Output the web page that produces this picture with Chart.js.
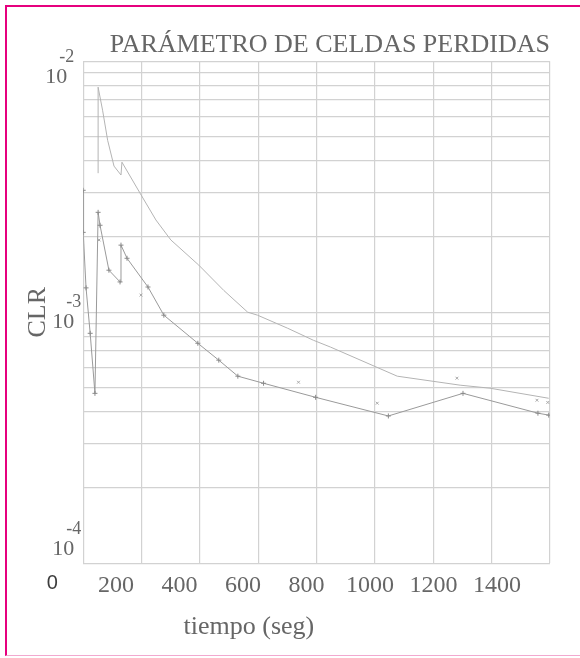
<!DOCTYPE html>
<html>
<head>
<meta charset="utf-8">
<script src="https://cdn.jsdelivr.net/npm/chart.js@4.4.0/dist/chart.umd.min.js"></script>
<style>
  body { margin: 0; background: #fff; }
  #wrap { position: relative; width: 580px; height: 658px; }
  #frame {
    position: absolute; left: 5px; top: 5px; width: 575px; height: 651px;
    border-left: 2px solid #e6007e; border-top: 2px solid #e6007e;
    border-bottom: 1px solid #f2a9cf; box-sizing: border-box;
  }
  canvas { position: absolute; left: 0; top: 0; }
</style>
</head>
<body>
<div id="wrap">
  <canvas id="clrChart" width="580" height="658"></canvas>
  <div id="frame"></div>
</div>
<script>
// tiempo (seg) / CLR
const upperTime = [144, 144, 158, 174, 194, 216, 219, 276, 326, 373, 461, 540, 615, 646, 741, 822, 876, 1086, 1284, 1378, 1563];
const upperCLR = [3.58e-3, 7.88e-3, 6.38e-3, 4.84e-3, 3.82e-3, 3.52e-3, 3.96e-3, 2.98e-3, 2.33e-3, 1.94e-3, 1.54e-3, 1.22e-3, 1.0e-3, 9.73e-4, 8.63e-4, 7.73e-4, 7.26e-4, 5.56e-4, 5.12e-4, 4.98e-4, 4.54e-4];

const lowerTime = [97, 97, 106, 119, 134, 144, 150, 178, 213, 216, 235, 301, 351, 458, 524, 584, 665, 829, 1058, 1293, 1529, 1563];
const lowerCLR = [3.06e-3, 2.08e-3, 1.25e-3, 8.24e-4, 4.75e-4, 2.5e-3, 2.22e-3, 1.47e-3, 1.32e-3, 1.85e-3, 1.64e-3, 1.26e-3, 9.73e-4, 7.52e-4, 6.44e-4, 5.56e-4, 5.21e-4, 4.58e-4, 3.86e-4, 4.75e-4, 3.96e-4, 3.89e-4];

// puntos sueltos
const looseTime = [147, 279, 775, 1023, 1274, 1526, 1560];
const looseCLR = [1.94e-3, 1.17e-3, 5.26e-4, 4.34e-4, 5.46e-4, 4.46e-4, 4.37e-4];

const xTickValues = [0, 200, 400, 600, 800, 1000, 1200, 1400];
const yDecades = [1e-2, 1e-3, 1e-4];
const yExponents = ['-2', '-3', '-4'];

const xMin = 97, xMax = 1567;
const serif = '"Liberation Serif", "Times New Roman", serif';
const textGray = '#666';

const toPoints = (xs, ys) => xs.map((x, i) => ({ x: x, y: ys[i] }));

// the grid of the original is 8 equal columns, not aligned with the labels
const xGrid = Array.from({ length: 9 }, (_, i) => xMin + i * (xMax - xMin) / 8);
const yGrid = [];
[-4, -3].forEach(e => { for (let m = 1; m <= 9; m++) yGrid.push(m * Math.pow(10, e)); });
yGrid.push(1e-2);

// the decade labels sit a little off their grid lines in the original
const yLabelShift = [[-7, 16], [0, 10], [0, -14]];

const extraText = {
  id: 'extraText',
  afterDraw(chart) {
    const { ctx, chartArea, scales: { y } } = chart;
    ctx.save();
    ctx.fillStyle = textGray;
    ctx.textBaseline = 'middle';
    yDecades.forEach((v, i) => {
      const right = chartArea.left - 9 + yLabelShift[i][0];
      const cy = y.getPixelForValue(v) + yLabelShift[i][1];
      ctx.textAlign = 'right';
      ctx.font = '22px ' + serif;
      ctx.fillText('10', right, cy);
      ctx.font = '18px ' + serif;
      ctx.fillText(yExponents[i], right + 7, cy - 20);
    });
    ctx.textAlign = 'center';
    ctx.font = '26px ' + serif;
    ctx.fillText('tiempo (seg)', chartArea.left + 0.355 * (chartArea.right - chartArea.left), chartArea.bottom + 64);
    ctx.restore();
  }
};

new Chart(document.getElementById('clrChart'), {
  type: 'line',
  data: {
    datasets: [{
      data: toPoints(upperTime, upperCLR),
      borderColor: '#b4b4b4',
      borderWidth: 1,
      pointRadius: 0,
      tension: 0
    }, {
      data: toPoints(lowerTime, lowerCLR),
      borderColor: '#9a9a9a',
      borderWidth: 1,
      pointStyle: 'cross',
      pointRadius: 2.5,
      pointBorderColor: '#8a8a8a',
      pointBorderWidth: 1,
      tension: 0
    }, {
      data: toPoints(looseTime, looseCLR),
      showLine: false,
      pointStyle: 'crossRot',
      pointRadius: 2,
      pointBorderColor: '#a8a8a8',
      pointBorderWidth: 1
    }]
  },
  options: {
    responsive: false,
    animation: false,
    devicePixelRatio: 1,
    layout: { padding: { left: 10, top: 30, right: 30, bottom: 50 } },
    scales: {
      x: {
        type: 'linear',
        min: xMin,
        max: xMax,
        afterBuildTicks: (axis) => { axis.ticks = xGrid.map(v => ({ value: v })); },
        ticks: { display: false },
        grid: { color: '#d2d2d2', lineWidth: 1.2, drawTicks: false },
        border: { display: false }
      },
      xLabel: {
        type: 'linear',
        position: 'bottom',
        weight: 1,
        min: xMin,
        max: xMax,
        afterBuildTicks: (axis) => { axis.ticks = xTickValues.map(v => ({ value: v })); },
        ticks: {
          autoSkip: false,
          maxRotation: 0,
          minRotation: 0,
          padding: 8,
          callback: (v) => String(v),
          color: (c) => c.tick && c.tick.value === 0 ? '#3c3c3c' : textGray,
          font: (c) => c.tick && c.tick.value === 0
            ? { family: '"Liberation Sans", Arial, sans-serif', size: 20 }
            : { family: serif, size: 24 }
        },
        grid: { display: false, drawTicks: false },
        border: { display: false }
      },
      y: {
        type: 'logarithmic',
        min: 1e-4,
        max: 1e-2,
        afterBuildTicks: (axis) => { axis.ticks = yGrid.map(v => ({ value: v })); },
        ticks: { display: false },
        grid: { color: '#d2d2d2', lineWidth: 1.2, drawTicks: false },
        border: { display: false },
        title: {
          display: true,
          text: 'CLR',
          color: textGray,
          font: { family: serif, size: 26 },
          padding: { top: 13, bottom: 29 }
        }
      }
    },
    plugins: {
      legend: { display: false },
      tooltip: { enabled: false },
      title: {
        display: true,
        text: 'PARÁMETRO DE CELDAS PERDIDAS',
        align: 'end',
        color: textGray,
        font: { family: serif, size: 26, weight: 'normal' },
        padding: { top: 0, bottom: 0 }
      }
    }
  },
  plugins: [extraText]
});
</script>
</body>
</html>
